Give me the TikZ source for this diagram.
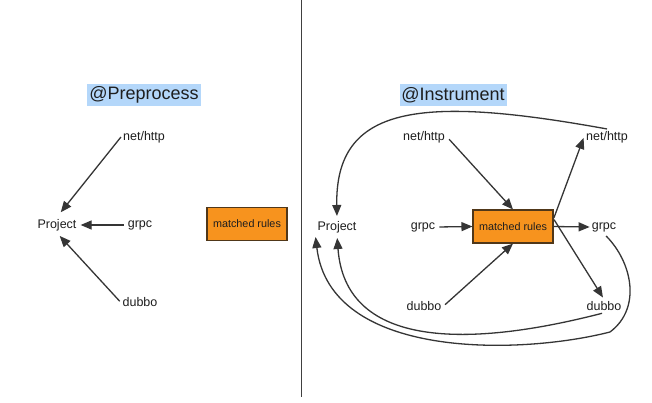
\documentclass[tikz,border=0pt]{standalone}
\usepackage{fontspec}
\setmainfont{Liberation Sans}
\usetikzlibrary{arrows.meta,calc}
\definecolor{hlblue}{RGB}{180,215,250}
\definecolor{boxorange}{RGB}{247,147,30}
\definecolor{boxedge}{RGB}{80,55,25}
\definecolor{ink}{RGB}{30,30,30}
\begin{document}
\begin{tikzpicture}[x=1pt,y=-1pt,
  lbl/.style={inner sep=2pt,text=ink,font=\fontsize{12.5}{14}\selectfont},
  ttl/.style={fill=hlblue,inner sep=1pt,minimum width=114pt,minimum height=22pt,text=ink,font=\fontsize{18}{20}\selectfont},
  rulebox/.style={draw=boxedge,line width=1.1pt,fill=boxorange,minimum width=80pt,minimum height=33pt,inner sep=1pt,text=ink,font=\fontsize{10.8}{12}\selectfont},
  arr/.style={draw=ink!90,line width=1.3pt,-{Triangle[length=11pt,width=9pt]}},
  ln/.style={draw=ink,line width=1.2pt}]
\useasboundingbox[fill=white] (0,0) rectangle (652,403);
% divider
\coordinate (dtop) at (301.5,0);
\coordinate (dbot) at (301.5,397);
\draw[draw=ink!85,line width=1.4pt] (dtop) -- (dbot);
% left
\node[ttl] (tpre) at (144,95) {@Preprocess};
\node[lbl] (lnet) at (144,137) {net/http};
\node[lbl] (lproj) at (57,225) {Project};
\node[lbl] (lgrpc) at (140,225) {grpc};
\node[lbl] (ldub) at (140,302) {dubbo};
\node[rulebox] (lbox) at (247,224) {matched rules};
\draw[arr,shorten >=6pt] (lnet.west) -- (lproj.north);
\draw[arr,shorten <=2pt,shorten >=2pt] (lgrpc.west) -- (lproj.east);
\draw[arr,shorten <=1pt,shorten >=4pt] (ldub.west) -- (lproj.south);
% right
\node[ttl,minimum width=107pt] (tins) at (453,95) {@Instrument};
\node[lbl] (rnet) at (424,137) {net/http};
\node[lbl] (rproj) at (337,227) {Project};
\node[lbl] (rgrpc) at (423,227) {grpc};
\node[lbl] (rdub) at (424,306) {dubbo};
\node[rulebox] (rbox) at (513,226.5) {matched rules};
\node[lbl] (rnet2) at (607,137) {net/http};
\node[lbl] (rgrpc2) at (604,227) {grpc};
\node[lbl] (rdub2) at (604,306) {dubbo};
\coordinate (rboxout) at ($(rbox.east)!0.45!(rbox.north east)$);
\draw[arr,shorten <=3pt] (rnet.east) -- (rbox.north);
\draw[arr,shorten <=2pt] (rgrpc.east) -- (rbox.west);
\draw[arr,shorten <=2pt] (rdub.east) -- (rbox.south);
\draw[arr,shorten <=1pt,shorten >=1pt] (rboxout) -- (rnet2.west);
\draw[arr] (rbox.east) -- (rgrpc2.west);
\draw[arr,shorten <=1pt,shorten >=2pt] (rboxout) -- (rdub2.north);
% curves back to Project
\draw[arr,shorten >=3pt] (rnet2.north) .. controls (420,95) and (335,105) .. (rproj.north);
\draw[arr,shorten <=2pt,shorten >=3pt] (rdub2.south) .. controls (460,350) and (345,345) .. (rproj.south);
\draw[arr,shorten <=3pt,shorten >=2pt] (rgrpc2.south) .. controls (632,262) and (642,308) .. (610,332) .. controls (520,355) and (330,360) .. (rproj.south west);
\end{tikzpicture}
\end{document}
